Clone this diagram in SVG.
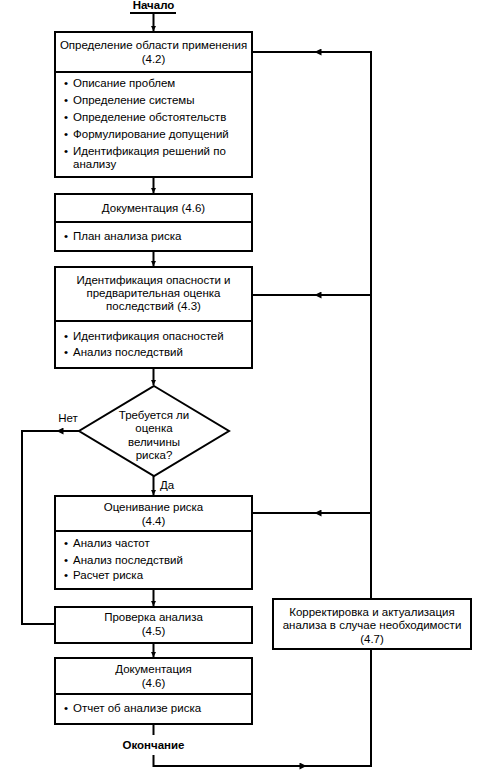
<svg xmlns="http://www.w3.org/2000/svg" width="485" height="779" viewBox="0 0 485 779">
<style>
text{font-family:"Liberation Sans",Arial,sans-serif;font-size:11.5px;fill:#000}
.c{text-anchor:middle}
.b{font-weight:bold}
.box{fill:#fff;stroke:#000;stroke-width:2}
.ln{fill:none;stroke:#000;stroke-width:2}
</style>
<defs>
<marker id="ah" viewBox="0 0 10 10" refX="10" refY="5" markerWidth="5" markerHeight="5" orient="auto" markerUnits="userSpaceOnUse"><path d="M0,0L10,5L0,10z" fill="#000"/></marker>
<marker id="mid" viewBox="0 0 10 10" refX="5" refY="5" markerWidth="9" markerHeight="7" orient="auto" markerUnits="userSpaceOnUse"><path d="M0,0L10,5L0,10z" fill="#000"/></marker>
</defs>
<rect width="485" height="779" fill="#fff"/>
<g id="connectors">
<path class="ln" d="M130,13H176"/>
<path class="ln" d="M153.5,13V31" marker-end="url(#ah)"/>
<path class="ln" d="M153.5,177V193" marker-end="url(#ah)"/>
<path class="ln" d="M153.5,251V266" marker-end="url(#ah)"/>
<path class="ln" d="M153.5,368V385" marker-end="url(#ah)"/>
<path class="ln" d="M153.5,476V495" marker-end="url(#ah)"/>
<path class="ln" d="M153.5,589V606" marker-end="url(#ah)"/>
<path class="ln" d="M153.5,643V657" marker-end="url(#ah)"/>
<path class="ln" d="M79,431L60,431" marker-end="url(#mid)"/>
<path class="ln" d="M60,431H22V624H55"/>
<path class="ln" d="M153.5,724V735"/>
<path class="ln" d="M153.5,755V766H303" marker-end="url(#mid)"/>
<path class="ln" d="M300,766H371V649"/>
<path class="ln" d="M371,599V52H318" marker-end="url(#mid)"/>
<path class="ln" d="M320,52H252"/>
<path class="ln" d="M371,295H318" marker-end="url(#mid)"/>
<path class="ln" d="M320,295H252"/>
<path class="ln" d="M371,513H318" marker-end="url(#mid)"/>
<path class="ln" d="M320,513H252"/>
</g>
<g id="start"><text class="c b" x="153.5" y="9">Начало</text></g>
<g id="scope">
<rect class="box" x="55" y="32" width="197" height="145"/>
<path class="ln" d="M55,72H252"/>
<text class="c" x="153.5" y="49">Определение области применения</text>
<text class="c" x="153.5" y="63">(4.2)</text>
<text x="64" y="87">•</text><text x="73" y="87">Описание проблем</text>
<text x="64" y="104">•</text><text x="73" y="104">Определение системы</text>
<text x="64" y="121">•</text><text x="73" y="121">Определение обстоятельств</text>
<text x="64" y="138">•</text><text x="73" y="138">Формулирование допущений</text>
<text x="64" y="155">•</text><text x="73" y="155">Идентификация решений по</text>
<text x="73" y="168">анализу</text>
</g>
<g id="doc1">
<rect class="box" x="55" y="194" width="197" height="57"/>
<path class="ln" d="M55,222H252"/>
<text class="c" x="153.5" y="212">Документация (4.6)</text>
<text x="64" y="240">•</text><text x="73" y="240">План анализа риска</text>
</g>
<g id="hazard">
<rect class="box" x="55" y="267" width="197" height="101"/>
<path class="ln" d="M55,321H252"/>
<text class="c" x="153.5" y="284">Идентификация опасности и</text>
<text class="c" x="153.5" y="297">предварительная оценка</text>
<text class="c" x="153.5" y="310">последствий (4.3)</text>
<text x="64" y="340">•</text><text x="73" y="340">Идентификация опасностей</text>
<text x="64" y="356">•</text><text x="73" y="356">Анализ последствий</text>
</g>
<g id="decision">
<path class="box" d="M154,386L229,431L154,476L79,431Z"/>
<text class="c" x="154" y="419">Требуется ли</text>
<text class="c" x="154" y="432">оценка</text>
<text class="c" x="154" y="446">величины</text>
<text class="c" x="154" y="459">риска?</text>
<text class="c" x="68" y="422">Нет</text>
<text x="160" y="489">Да</text>
</g>
<g id="estimate">
<rect class="box" x="55" y="496" width="197" height="93"/>
<path class="ln" d="M55,531H252"/>
<text class="c" x="153.5" y="511">Оценивание риска</text>
<text class="c" x="153.5" y="525">(4.4)</text>
<text x="64" y="547">•</text><text x="73" y="547">Анализ частот</text>
<text x="64" y="564">•</text><text x="73" y="564">Анализ последствий</text>
<text x="64" y="579">•</text><text x="73" y="579">Расчет риска</text>
</g>
<g id="verify">
<rect class="box" x="55" y="607" width="197" height="36"/>
<text class="c" x="153.5" y="621">Проверка анализа</text>
<text class="c" x="153.5" y="635">(4.5)</text>
</g>
<g id="doc2">
<rect class="box" x="55" y="658" width="197" height="66"/>
<path class="ln" d="M55,694H252"/>
<text class="c" x="153.5" y="673">Документация</text>
<text class="c" x="153.5" y="687">(4.6)</text>
<text x="64" y="712">•</text><text x="73" y="712">Отчет об анализе риска</text>
</g>
<g id="end"><text class="c b" x="153.5" y="749">Окончание</text></g>
<g id="update">
<rect class="box" x="273" y="599" width="198" height="50"/>
<text class="c" x="372" y="616">Корректировка и актуализация</text>
<text class="c" x="372" y="629">анализа в случае необходимости</text>
<text class="c" x="372" y="643">(4.7)</text>
</g>
</svg>
